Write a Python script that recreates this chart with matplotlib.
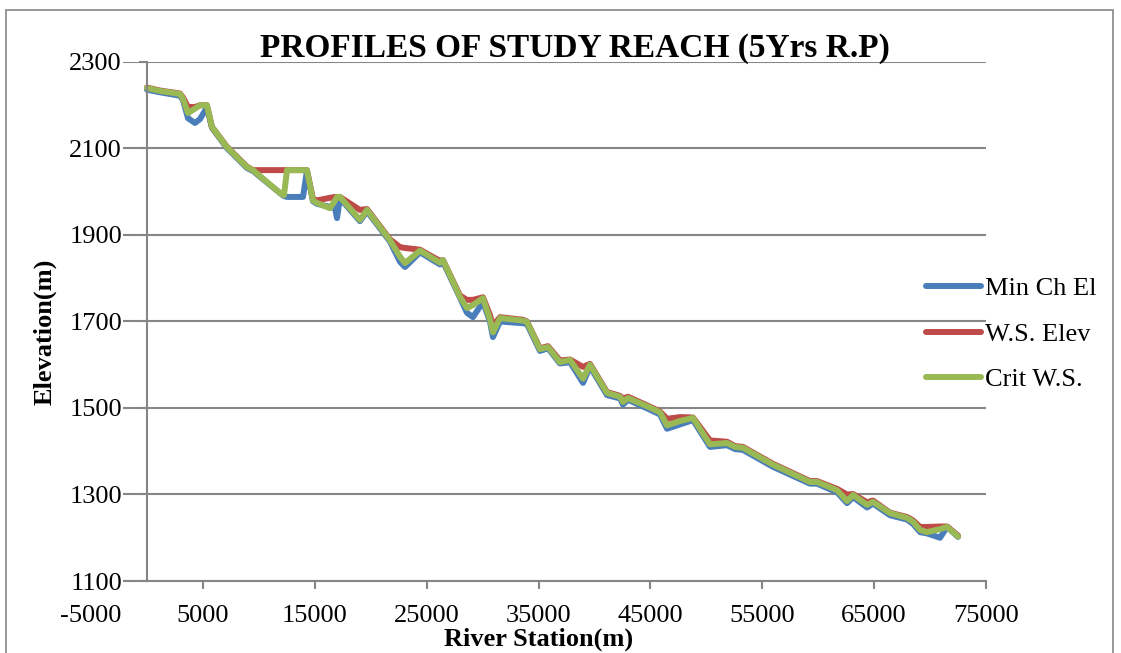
import matplotlib
matplotlib.use('Agg')
import matplotlib.pyplot as plt
from matplotlib.patches import Rectangle

# River station (m) and the three HEC-RAS profiles (m)
station = [0, 1160, 2500, 2950, 3220, 3670, 4290, 4740, 5360, 5810,
           7150, 8940, 9480, 11890, 12250, 12520, 13950, 14300, 14840, 15200,
           16360, 16810, 16990, 17250, 19040, 19670, 21720, 22620, 23070, 24410,
           26190, 26460, 27980, 28610, 29140, 30040, 30660, 30930, 31560, 33610,
           33970, 35130, 35850, 36920, 37820, 38980, 39600, 41120, 42290, 42550,
           43000, 44970, 45860, 46490, 47650, 48810, 50330, 51850, 52570, 53280,
           55960, 59270, 59900, 61690, 62580, 63120, 64370, 64900, 66420, 67940,
           68480, 69110, 69730, 70890, 71520, 72500]
min_ch_el = [2236, 2230, 2224, 2222, 2212, 2170, 2159, 2168, 2195, 2148,
             2101, 2055, 2048, 1997, 1990, 1988, 1988, 2048, 1978, 1972,
             1965, 1962, 1939, 1985, 1932, 1955, 1885, 1838, 1826, 1860,
             1832, 1838, 1755, 1720, 1710, 1745, 1700, 1664, 1700, 1696,
             1694, 1632, 1638, 1603, 1606, 1558, 1596, 1530, 1522, 1508,
             1519, 1496, 1485, 1452, 1462, 1472, 1410, 1414, 1405, 1403,
             1364, 1325, 1325, 1305, 1280, 1294, 1270, 1279, 1252, 1242,
             1232, 1213, 1210, 1200, 1225, 1202]
ws_elev = [2241, 2234, 2229, 2227, 2218, 2196, 2196, 2200, 2200, 2150,
           2104, 2058, 2050, 2050, 2050, 2050, 2050, 2050, 1983, 1980,
           1986, 1988, 1988, 1988, 1958, 1960, 1890, 1872, 1870, 1866,
           1840, 1842, 1760, 1750, 1750, 1756, 1715, 1690, 1710, 1704,
           1700, 1638, 1643, 1610, 1612, 1595, 1602, 1537, 1528, 1522,
           1526, 1503, 1492, 1475, 1479, 1478, 1425, 1422, 1412, 1410,
           1371, 1331, 1331, 1313, 1300, 1301, 1282, 1286, 1258, 1248,
           1240, 1225, 1225, 1226, 1226, 1205]
crit_ws = [2240, 2233, 2228, 2226, 2215, 2182, 2192, 2200, 2200, 2150,
           2103, 2057, 2050, 1997, 1992, 2050, 2050, 2050, 1980, 1974,
           1962, 1980, 1988, 1988, 1935, 1958, 1888, 1850, 1835, 1864,
           1836, 1842, 1757, 1731, 1738, 1754, 1705, 1675, 1708, 1702,
           1699, 1636, 1641, 1606, 1611, 1568, 1600, 1535, 1526, 1514,
           1523, 1501, 1490, 1460, 1470, 1477, 1416, 1419, 1410, 1408,
           1369, 1329, 1329, 1310, 1285, 1299, 1276, 1283, 1257, 1246,
           1237, 1218, 1213, 1220, 1225, 1203]

x_ticks = list(range(-5000, 75001, 10000))
y_ticks = list(range(1100, 2301, 200))

SERIES = [
    ('Min Ch El', min_ch_el, '#4A7EBB'),
    ('W.S. Elev', ws_elev, '#BE4B48'),
    ('Crit W.S.', crit_ws, '#98B954'),
]
GRID = '#868686'

plt.rcParams['font.family'] = ['Liberation Serif', 'DejaVu Serif']

fig = plt.figure(figsize=(11.21, 6.53), dpi=100)
ax = fig.add_axes([91 / 1121, 1 - 581 / 653, (986 - 91) / 1121, (581 - 62) / 653])

for label, vals, color in SERIES:
    ax.plot(station, vals, color=color, lw=4.3, label=label,
            solid_joinstyle='round', solid_capstyle='round')

ax.set_xlim(-5000, 75000)
ax.set_ylim(1100, 2300)
ax.set_xticks(x_ticks)
ax.set_yticks(y_ticks)
ax.set_xticklabels([str(v) for v in x_ticks])
ax.set_yticklabels([str(v) for v in y_ticks])

ax.yaxis.grid(True, color=GRID, lw=1.5)
ax.set_axisbelow(True)
for side in ('top', 'right'):
    ax.spines[side].set_visible(False)
ax.spines['left'].set_position(('data', 0))
for side in ('left', 'bottom'):
    ax.spines[side].set_color(GRID)
    ax.spines[side].set_linewidth(1.5)
# let the "1100" label box hide the stub of the x axis left of zero
ax.spines['bottom'].set_zorder(0.3)

ax.tick_params(axis='both', direction='out', length=6, width=1.5, color=GRID,
               labelsize=19, labelcolor='black')
ax.tick_params(axis='x', pad=11)
ax.tick_params(axis='y', pad=12)
ax.xaxis.get_major_ticks()[0].tick1line.set_visible(False)
for lab in ax.get_yticklabels():
    lab.set_bbox(dict(facecolor='white', edgecolor='none', pad=1))

ax.set_xlabel('River Station(m)', fontsize=19, fontweight='bold', labelpad=1)
fig.text(45 / 1121, 1 - 332 / 653, 'Elevation(m)', rotation=90, fontsize=19,
         fontweight='bold', ha='center', va='center')
fig.text(575 / 1121, 1 - 48 / 653, 'PROFILES OF STUDY REACH (5Yrs R.P)',
         fontsize=24, fontweight='bold', ha='center', va='center')

fig.legend(loc='center left', bbox_to_anchor=(926 / 1121, 1 - 334 / 653),
           frameon=False, fontsize=19, handlelength=2.1, handletextpad=0.15,
           labelspacing=0.83, borderpad=0, borderaxespad=0)

fig.patches.append(Rectangle((6 / 1121, -0.05), (1113 - 6) / 1121,
                             1 - 10 / 653 + 0.05, transform=fig.transFigure,
                             fill=False, edgecolor=GRID, lw=1.2))

fig.savefig('out.png', dpi=100)
